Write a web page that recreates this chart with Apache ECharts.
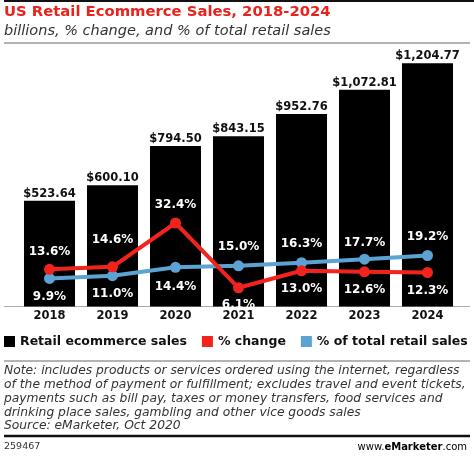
<!DOCTYPE html>
<html><head><meta charset="utf-8">
<script src="https://cdn.jsdelivr.net/npm/echarts@6/dist/echarts.min.js"></script>
<style>html,body{margin:0;padding:0;background:#fff}#c{width:474px;height:458px}</style>
</head><body><div id="c"></div>
<script>
const years = ['2018','2019','2020','2021','2022','2023','2024'];
const sales = [523.64, 600.10, 794.50, 843.15, 952.76, 1072.81, 1204.77];
const pctChange = [13.6, 14.6, 32.4, 6.1, 13.0, 12.6, 12.3];
const pctTotal = [9.9, 11.0, 14.4, 15.0, 16.3, 17.7, 19.2];
const changeLabelPos = ['top','top','top','bottom','bottom','bottom','bottom'];
const changeLabelDist = [6, 15, 7, 6, 7, 7, 7];
const totalLabelPos = ['bottom','bottom','bottom','top','top','top','top'];
const totalLabelDist = [7, 7, 8, 7, 7, 5, 7];
const noteLines = [
 'Note: includes products or services ordered using the internet, regardless',
 'of the method of payment or fulfillment; excludes travel and event tickets,',
 'payments such as bill pay, taxes or money transfers, food services and',
 'drinking place sales, gambling and other vice goods sales',
 'Source: eMarketer, Oct 2020'
];

const RED = '#f2231c', BLUE = '#5ca3d3';
const F = '"DejaVu Sans", sans-serif';
const chart = echarts.init(document.getElementById('c'), null, {renderer:'canvas'});

const lbl = {color:'#fff', fontFamily:F, fontWeight:'bold', fontSize:12};
const graphics = [
  {type:'line', shape:{x1:4,y1:1,x2:474,y2:1}, style:{stroke:'#111',lineWidth:2}},
  {type:'text', x:4, y:12.5, style:{text:'US Retail Ecommerce Sales, 2018-2024', font:'bold 14.8px '+F, fill:'#e8221c', verticalAlign:'middle'}},
  {type:'text', x:4, y:31, style:{text:'billions, % change, and % of total retail sales', font:'italic 14.5px '+F, fill:'#333', verticalAlign:'middle'}},
  {type:'line', shape:{x1:4,y1:43,x2:470,y2:43}, style:{stroke:'#9a9a9a',lineWidth:1.5}},
  {type:'line', shape:{x1:4,y1:306.5,x2:470,y2:306.5}, style:{stroke:'#aaa',lineWidth:1}},
  {type:'line', shape:{x1:4,y1:361,x2:470,y2:361}, style:{stroke:'#9a9a9a',lineWidth:1.5}},
  {type:'line', shape:{x1:4,y1:436,x2:470,y2:436}, style:{stroke:'#111',lineWidth:2.5}},
  {type:'text', x:4, y:447, style:{text:'259467', font:'9.5px '+F, fill:'#333', verticalAlign:'middle'}},
  {type:'text', x:467, y:447, style:{
    text:'{n|www.}{e|e}{m|Marketer}{n|.com}', align:'right', verticalAlign:'middle',
    rich:{n:{fontFamily:F,fontSize:10,color:'#555'},e:{fontFamily:F,fontSize:10,fontWeight:'bold',color:'#e8221c'},m:{fontFamily:F,fontSize:10,fontWeight:'bold',color:'#222'}}
  }}
];
noteLines.forEach((t,i)=>{
  graphics.push({type:'text', x:4, y:371 + i*13.8, style:{text:t, font:'italic 12.3px '+F, fill:'#333', verticalAlign:'middle'}});
});

chart.setOption({
  animation:false,
  textStyle:{fontFamily:F},
  grid:{left:18, right:15, top:54, bottom:151.5},
  legend:{
    left:4, top:335, width:470, padding:0, itemWidth:11, itemHeight:11, itemGap:15,
    textStyle:{fontFamily:F, fontWeight:'bold', fontSize:12.5, color:'#111'},
    data:[{name:'Retail ecommerce sales', icon:'rect'},{name:'% change', icon:'rect'},{name:'% of total retail sales', icon:'rect'}]
  },
  xAxis:{type:'category', data:years, axisLine:{show:false}, axisTick:{show:false},
    axisLabel:{fontFamily:F, fontWeight:'bold', fontSize:11.5, color:'#111', margin:4}},
  yAxis:[
    {type:'value', min:0, max:1250, show:false, splitLine:{show:false}},
    {type:'value', min:-1.5, max:101, show:false, splitLine:{show:false}}
  ],
  series:[
    {name:'Retail ecommerce sales', type:'bar', data:sales, barWidth:'81%', itemStyle:{color:'#000'},
     label:{show:true, position:'top', distance:1, fontFamily:F, fontWeight:'bold', fontSize:11.5, color:'#111',
       formatter:p=>'$'+p.value.toLocaleString('en-US',{minimumFractionDigits:2,maximumFractionDigits:2})}},
    {name:'% of total retail sales', type:'line', yAxisIndex:1, z:3,
     data:pctTotal.map((v,i)=>({value:v, label:{position:totalLabelPos[i], distance:totalLabelDist[i]}})),
     symbol:'circle', symbolSize:11, lineStyle:{color:BLUE,width:4}, itemStyle:{color:BLUE},
     label:Object.assign({show:true, formatter:p=>p.value.toFixed(1)+'%'}, lbl)},
    {name:'% change', type:'line', yAxisIndex:1, z:4,
     data:pctChange.map((v,i)=>({value:v, label:{position:changeLabelPos[i], distance:changeLabelDist[i]}})),
     symbol:'circle', symbolSize:11, lineStyle:{color:RED,width:4}, itemStyle:{color:RED},
     label:Object.assign({show:true, formatter:p=>p.value.toFixed(1)+'%'}, lbl)}
  ],
  graphic:graphics
});
</script></body></html>
